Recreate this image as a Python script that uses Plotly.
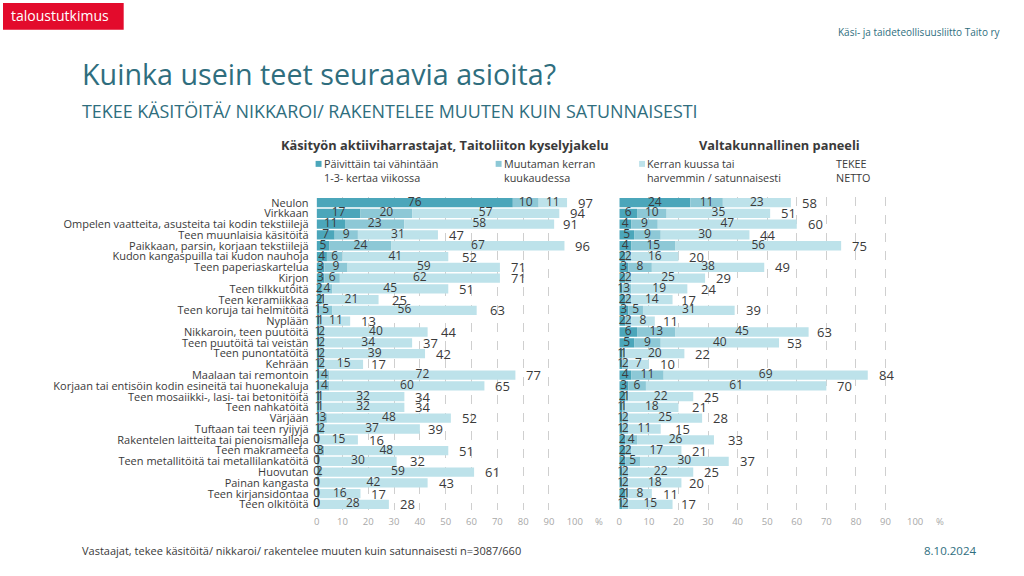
import plotly.graph_objects as go

categories = [
    "Neulon", "Virkkaan", "Ompelen vaatteita, asusteita tai kodin tekstiilejä",
    "Teen muunlaisia käsitöitä", "Paikkaan, parsin, korjaan tekstiilejä",
    "Kudon kangaspuilla tai kudon nauhoja", "Teen paperiaskartelua", "Kirjon",
    "Teen tilkkutöitä", "Teen keramiikkaa", "Teen koruja tai helmitöitä", "Nyplään",
    "Nikkaroin, teen puutöitä", "Teen puutöitä tai veistän", "Teen punontatöitä",
    "Kehrään", "Maalaan tai remontoin",
    "Korjaan tai entisöin kodin esineitä tai huonekaluja",
    "Teen mosaiikki-, lasi- tai betonitöitä", "Teen nahkatöitä", "Värjään",
    "Tuftaan tai teen ryijyjä", "Rakentelen laitteita tai pienoismalleja",
    "Teen makrameeta", "Teen metallitöitä tai metallilankatöitä", "Huovutan",
    "Painan kangasta", "Teen kirjansidontaa", "Teen olkitöitä",
]

# Left panel: Käsityön aktiiviharrastajat, Taitoliiton kyselyjakelu
left_weekly = [76, 17, 11, 7, 5, 4, 3, 3, 2, 2, 1, 1, 1, 1, 1, 1, 1, 1, 1, 1, 1, 1, 0, 0, 0, 0, 0, 0, 0]
left_monthly = [10, 20, 23, 9, 24, 6, 9, 6, 4, 1, 5, 1, 2, 2, 2, 2, 4, 4, 1, 1, 3, 2, 1, 3, 1, 2, 1, 1, 0]
left_rarely = [11, 57, 58, 31, 67, 41, 59, 62, 45, 21, 56, 11, 40, 34, 39, 15, 72, 60, 32, 32, 48, 37, 15, 48, 30, 59, 42, 16, 28]
left_net = [97, 94, 91, 47, 96, 52, 71, 71, 51, 25, 63, 13, 44, 37, 42, 17, 77, 65, 34, 34, 52, 39, 16, 51, 32, 61, 43, 17, 28]

# Right panel: Valtakunnallinen paneeli
right_weekly = [24, 6, 4, 5, 4, 2, 3, 2, 1, 2, 3, 2, 6, 5, 1, 1, 4, 3, 2, 1, 1, 1, 2, 2, 2, 1, 1, 2, 1]
right_monthly = [11, 10, 9, 9, 15, 2, 8, 2, 3, 2, 5, 2, 13, 9, 1, 2, 11, 6, 1, 1, 2, 2, 4, 2, 5, 2, 2, 1, 2]
right_rarely = [23, 35, 47, 30, 56, 16, 38, 25, 19, 14, 31, 8, 45, 40, 20, 7, 69, 61, 22, 18, 25, 11, 26, 17, 30, 22, 18, 8, 15]
right_net = [58, 51, 60, 44, 75, 20, 49, 29, 24, 17, 39, 11, 63, 53, 22, 10, 84, 70, 25, 21, 28, 15, 33, 21, 37, 25, 20, 11, 17]

series_names = ["Päivittäin tai vähintään 1-3- kertaa viikossa",
                "Muutaman kerran kuukaudessa",
                "Kerran kuussa tai harvemmin / satunnaisesti"]
colors = ["#4BA6BA", "#8DC8D6", "#BDE2EA"]
x_ticks = [0, 10, 20, 30, 40, 50, 60, 70, 80, 90, 100]

FONT = "Open Sans"
TEAL = "#2F6E7E"
TXT = "#3A3A3A"

fig = go.Figure()

panels = [
    ("x", "y", [left_weekly, left_monthly, left_rarely], left_net),
    ("x2", "y2", [right_weekly, right_monthly, right_rarely], right_net),
]

annotations = []
for xa, ya, segs, net in panels:
    base = [0] * len(categories)
    for k, vals in enumerate(segs):
        fig.add_trace(go.Bar(
            y=categories, x=vals, orientation="h", base=base,
            marker=dict(color=colors[k], line=dict(width=0)),
            name=series_names[k], xaxis=xa, yaxis=ya, showlegend=False,
            hoverinfo="skip",
        ))
        mids = [b + v / 2 for b, v in zip(base, vals)]
        fig.add_trace(go.Scatter(
            y=categories, x=mids, mode="text", text=[str(v) for v in vals],
            textposition="middle center", cliponaxis=False,
            textfont=dict(family=FONT, size=12, color=TXT),
            xaxis=xa, yaxis=ya, showlegend=False, hoverinfo="skip",
        ))
        base = [b + v for b, v in zip(base, vals)]
    for cat, t in zip(categories, net):
        annotations.append(dict(
            x=t, y=cat, xref=xa, yref=ya, text=str(t), showarrow=False,
            xanchor="left", xshift=9, font=dict(family=FONT, size=13, color=TXT),
        ))

ydom = [0.1139, 0.6604]
axis_common = dict(
    range=[0, 100], tickvals=x_ticks, showgrid=True, gridcolor="#CFCFCF",
    griddash="dash", gridwidth=1, zeroline=False, showline=False,
    tickfont=dict(family=FONT, size=9.5, color="#A8A8A8"), ticks="",
    ticklabelstandoff=5, fixedrange=True,
)
fig.update_layout(
    width=1024, height=576, margin=dict(l=0, r=0, t=0, b=0),
    paper_bgcolor="white", plot_bgcolor="white",
    barmode="overlay", bargap=0.14,
    xaxis=dict(domain=[317 / 1024, 578 / 1024], anchor="y", **axis_common),
    xaxis2=dict(domain=[623 / 1024, 922 / 1024], anchor="y2", **axis_common),
    yaxis=dict(domain=ydom, autorange=False, range=[len(categories) - 0.5, -0.5],
               categoryorder="array", categoryarray=categories,
               tickmode="array", tickvals=categories, ticktext=categories,
               tickfont=dict(family=FONT, size=11, color=TXT), ticks="",
               ticklabelstandoff=7,
               showgrid=False, anchor="x", fixedrange=True),
    yaxis2=dict(domain=ydom, autorange=False, range=[len(categories) - 0.5, -0.5],
                categoryorder="array", categoryarray=categories,
                showticklabels=False, showgrid=False, anchor="x2", fixedrange=True),
    font=dict(family=FONT),
)

def txt(x, y, s, size, color, xanchor="left", bold=False, yanchor="middle"):
    annotations.append(dict(
        x=x, y=y, xref="paper", yref="paper", text=("<b>%s</b>" % s) if bold else s,
        showarrow=False, xanchor=xanchor, yanchor=yanchor,
        font=dict(family=FONT, size=size, color=color),
    ))

def py(p):
    return 1 - p / 576

# header
fig.add_shape(type="rect", xref="paper", yref="paper", x0=0, x1=122 / 1024,
              y0=py(27), y1=1, fillcolor="#E30B2C", line=dict(width=0))
txt(6 / 1024, py(13), "taloustutkimus", 14, "white")
txt(1011 / 1024, py(29), "Käsi- ja taideteollisuusliitto Taito ry", 10, TEAL, xanchor="right")
txt(78 / 1024, py(71), "Kuinka usein teet seuraavia asioita?", 28.7, TEAL)
txt(78 / 1024, py(109), "TEKEE KÄSITÖITÄ/ NIKKAROI/ RAKENTELEE MUUTEN KUIN SATUNNAISESTI", 17.9, TEAL)

# panel titles
txt(447 / 1024, py(143), "Käsityön aktiiviharrastajat, Taitoliiton kyselyjakelu", 12.8, TXT, xanchor="center", bold=True)
txt(785 / 1024, py(143), "Valtakunnallinen paneeli", 12.8, TXT, xanchor="center", bold=True)

# legend
legend_items = [(316, series_names[0].replace(" 1-3-", "<br>1-3-")),
                (498, "Muutaman kerran<br>kuukaudessa"),
                (643, "Kerran kuussa tai<br>harvemmin / satunnaisesti")]
for (lx, lt), col in zip(legend_items, colors):
    fig.add_shape(type="rect", xref="paper", yref="paper",
                  x0=lx / 1024, x1=(lx + 6) / 1024, y0=py(165), y1=py(159),
                  fillcolor=col, line=dict(width=0))
    annotations.append(dict(
        x=(lx + 6) / 1024, y=py(169), xref="paper", yref="paper", text=lt,
        showarrow=False, xanchor="left", yanchor="middle", align="left",
        font=dict(family=FONT, size=10.8, color=TXT),
    ))
annotations.append(dict(
    x=840 / 1024, y=py(169), xref="paper", yref="paper", text="TEKEE<br>NETTO",
    showarrow=False, xanchor="left", yanchor="middle", align="left",
    font=dict(family=FONT, size=10.8, color=TXT),
))

# percent signs
txt(596 / 1024, py(522), "%", 9.5, "#A8A8A8")
txt(941 / 1024, py(522), "%", 9.5, "#A8A8A8")

# footer
txt(78 / 1024, py(551), "Vastaajat, tekee käsitöitä/ nikkaroi/ rakentelee muuten kuin satunnaisesti n=3087/660", 11, TXT)
txt(986 / 1024, py(551), "8.10.2024", 11.5, TEAL, xanchor="right")

fig.update_layout(annotations=annotations)
fig.write_html(
    "out.html",
    config={"displayModeBar": False},
    post_script="document.body.style.margin='0';document.body.style.padding='0';document.body.style.overflow='hidden';",
)
